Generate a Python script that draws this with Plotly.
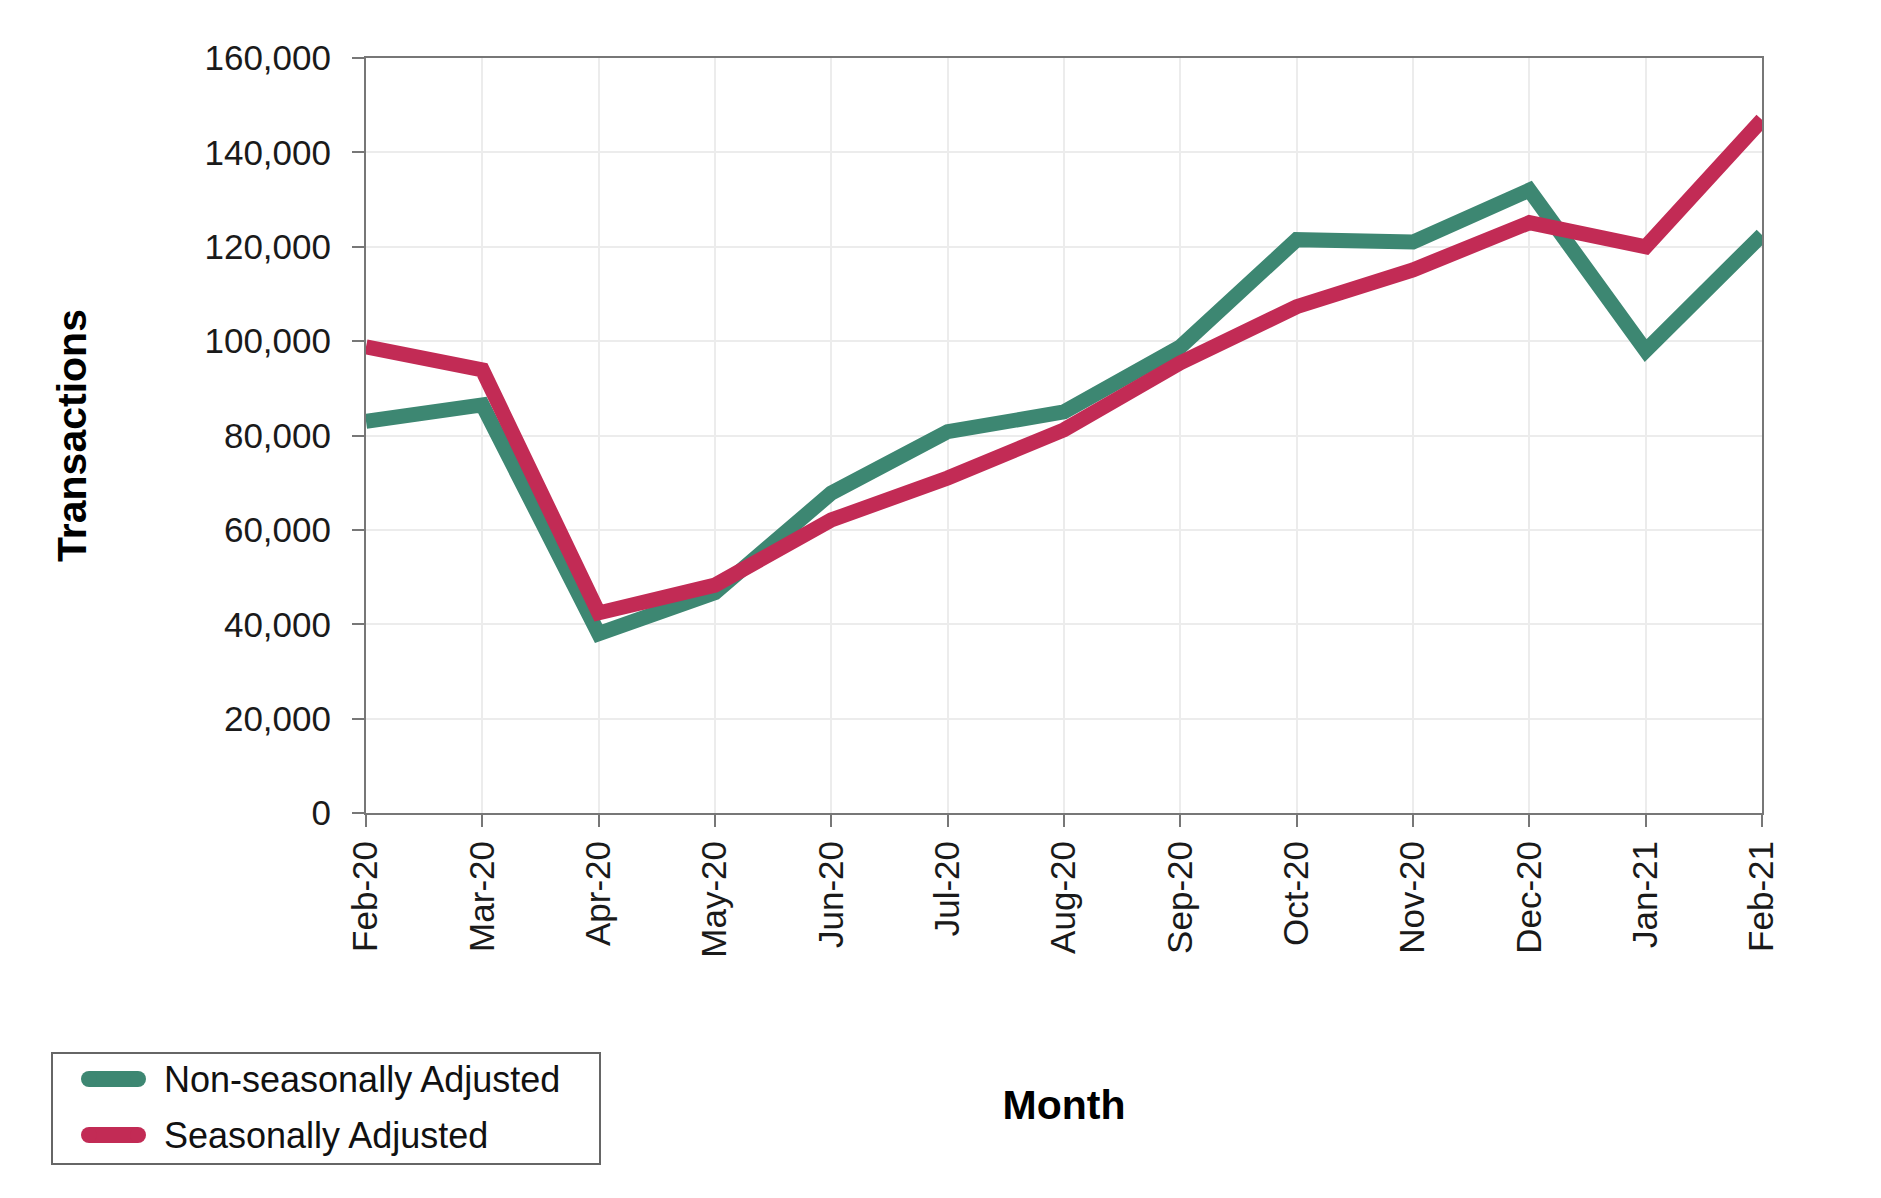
import plotly.graph_objects as go

months = ["Feb-20", "Mar-20", "Apr-20", "May-20", "Jun-20", "Jul-20", "Aug-20",
          "Sep-20", "Oct-20", "Nov-20", "Dec-20", "Jan-21", "Feb-21"]
non_seasonal = [83000, 86500, 38000, 46700, 67800, 80800, 85000,
                98800, 121500, 121000, 132000, 98000, 122500]
seasonal = [98800, 93900, 42400, 48300, 62100, 71000, 81200,
            95400, 107300, 115100, 125100, 120000, 146900]
y_ticks = [0, 20000, 40000, 60000, 80000, 100000, 120000, 140000, 160000]
series_names = ["Non-seasonally Adjusted", "Seasonally Adjusted"]

GREEN = "#3d8772"
RED = "#c22b55"
FONT = "Liberation Sans, Arial, sans-serif"

W, H = 1873, 1190
L, R, T, B = 358, 119, 50, 385
PW, PH = W - L - R, H - T - B


def px(xp):
    return (xp - L) / PW


def py(yp):
    return (H - B - yp) / PH


fig = go.Figure()
fig.add_trace(go.Scatter(x=months, y=non_seasonal, mode="lines",
                         name=series_names[0], showlegend=False,
                         line=dict(color=GREEN, width=15)))
fig.add_trace(go.Scatter(x=months, y=seasonal, mode="lines",
                         name=series_names[1], showlegend=False,
                         line=dict(color=RED, width=15)))

# custom legend (box, capsule swatches, labels)
shapes = [dict(type="rect", xref="paper", yref="paper",
               x0=px(44), x1=px(592), y0=py(1045), y1=py(1156),
               line=dict(color="#666666", width=2), fillcolor="rgba(0,0,0,0)")]
annotations = []
for i, (name, col) in enumerate(zip(series_names, [GREEN, RED])):
    yc = 1071 + i * 56
    shapes.append(dict(type="line", xref="paper", yref="paper",
                       x0=px(81), x1=px(130), y0=py(yc), y1=py(yc),
                       line=dict(color=col, width=16)))
    for cx in (81, 130):
        shapes.append(dict(type="circle", xref="paper", yref="paper",
                           x0=px(cx - 8), x1=px(cx + 8), y0=py(yc - 8), y1=py(yc + 8),
                           line=dict(width=0), fillcolor=col))
    annotations.append(dict(xref="paper", yref="paper", x=px(154), y=py(yc),
                            xanchor="left", yanchor="middle", showarrow=False,
                            text=name, font=dict(size=36, color="#111111", family=FONT)))

fig.update_layout(
    width=W, height=H,
    margin=dict(l=L, r=R, t=T, b=B),
    paper_bgcolor="white", plot_bgcolor="white",
    font=dict(family=FONT, size=35, color="#1a1a1a"),
    showlegend=False,
    shapes=shapes, annotations=annotations,
    xaxis=dict(
        type="category", range=[0, 12],
        tickangle=-90, ticks="outside", ticklen=12, tickwidth=1.5, tickcolor="#777777",
        showline=True, linecolor="#777777", linewidth=2, mirror=True,
        showgrid=True, gridcolor="#ececec", gridwidth=1.5,
        tickfont=dict(size=35, color="#1a1a1a"),
        title=dict(text="<b>Month</b>", font=dict(size=41, color="#000000"), standoff=134),
    ),
    yaxis=dict(
        range=[0, 160000], tickvals=y_ticks, tickformat=",d",
        ticks="outside", ticklen=12, tickwidth=1.5, tickcolor="#777777",
        ticklabelstandoff=14,
        showline=True, linecolor="#777777", linewidth=2, mirror=True,
        showgrid=True, gridcolor="#ececec", gridwidth=1.5, zeroline=False,
        tickfont=dict(size=35, color="#1a1a1a"),
        title=dict(text="<b>Transactions</b>", font=dict(size=41, color="#000000"), standoff=105),
    ),
)

fig.write_html("out.html")
